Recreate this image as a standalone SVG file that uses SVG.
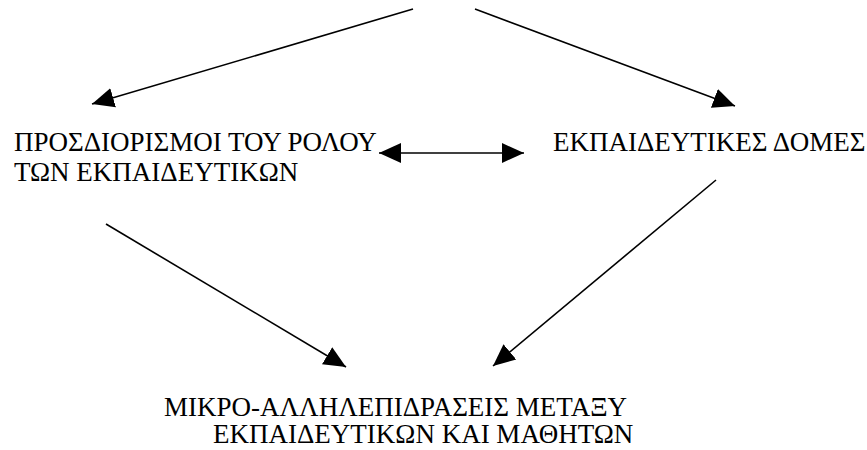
<svg xmlns="http://www.w3.org/2000/svg" width="867" height="450" viewBox="0 0 867 450">
<style>
text{font-family:"Liberation Serif","Times New Roman",serif;font-size:27px;fill:#000}
.c line{stroke:#000;stroke-width:1.6;fill:none}
</style>
<defs>
<marker id="ah" markerUnits="userSpaceOnUse" markerWidth="24" markerHeight="22" refX="22" refY="10" orient="auto-start-reverse" viewBox="0 0 24 20">
<path d="M0,0 L22,10 L0,20 Z" fill="#000"/>
</marker>
</defs>
<rect width="867" height="450" fill="#fff"/>
<g id="n1"><text x="14" y="151">ΠΡΟΣΔΙΟΡΙΣΜΟΙ ΤΟΥ ΡΟΛΟΥ</text><text x="14" y="181">ΤΩΝ ΕΚΠΑΙΔΕΥΤΙΚΩΝ</text></g>
<g id="n2"><text x="553" y="151">ΕΚΠΑΙΔΕΥΤΙΚΕΣ ΔΟΜΕΣ</text></g>
<g id="n3"><text x="164" y="416">ΜΙΚΡΟ-ΑΛΛΗΛΕΠΙΔΡΑΣΕΙΣ ΜΕΤΑΞΥ</text><text x="213" y="443">ΕΚΠΑΙΔΕΥΤΙΚΩΝ ΚΑΙ ΜΑΘΗΤΩΝ</text></g>
<g class="c" id="connectors">
<line x1="413" y1="9" x2="92" y2="104" marker-end="url(#ah)"/>
<line x1="475" y1="9" x2="735" y2="106" marker-end="url(#ah)"/>
<line x1="379" y1="153" x2="524" y2="153" marker-start="url(#ah)" marker-end="url(#ah)"/>
<line x1="106" y1="224" x2="346" y2="367" marker-end="url(#ah)"/>
<line x1="716" y1="180" x2="493" y2="366" marker-end="url(#ah)"/>
</g>
</svg>
